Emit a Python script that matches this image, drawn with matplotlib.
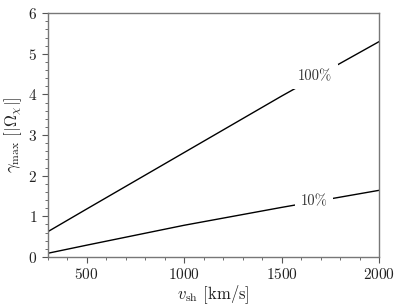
import matplotlib
matplotlib.use("Agg")
import matplotlib.pyplot as plt
from matplotlib.ticker import MultipleLocator

plt.rcParams['mathtext.fontset'] = 'cm'
plt.rcParams['font.family'] = 'serif'
plt.rcParams['font.serif'] = ['cmr10', 'DejaVu Serif']
plt.rcParams['axes.formatter.use_mathtext'] = True

v_sh = [300, 500, 1000, 1500, 2000]
gamma_100 = [0.62, 1.18, 2.57, 3.96, 5.30]
gamma_10 = [0.09, 0.29, 0.78, 1.22, 1.64]
labels = ["100%", "10%"]
label_x = [1671, 1666]
label_y = [4.45, 1.37]

fig = plt.figure(figsize=(3.99, 3.07), dpi=100)
ax = fig.add_axes([0.1195, 0.163, 0.8305, 0.794])

ax.plot(v_sh, gamma_100, color='black', lw=1.0)
ax.plot(v_sh, gamma_10, color='black', lw=1.0)
for lab, lx, ly in zip(labels, label_x, label_y):
    ax.text(lx, ly, lab, ha='center', va='center',
            fontsize=10.5, color='#333333',
            bbox=dict(facecolor='white', edgecolor='none', pad=4), zorder=5)

ax.set_xlim(300, 2000)
ax.set_ylim(0, 6)
ax.xaxis.set_major_locator(MultipleLocator(500))
ax.xaxis.set_minor_locator(MultipleLocator(100))
ax.yaxis.set_major_locator(MultipleLocator(1))
ax.yaxis.set_minor_locator(MultipleLocator(0.2))
ax.tick_params(which='both', direction='out', top=False, right=False,
               color='#555555', labelsize=11, labelcolor='#222222')
ax.tick_params(which='major', length=4, width=0.8)
ax.tick_params(which='minor', length=2, width=0.6)
for s in ax.spines.values():
    s.set_color('#777777')
    s.set_linewidth(1.0)

ax.set_xlabel(r'$v_{\rm sh}$ [km/s]', fontsize=12, color='#222222', labelpad=1)
ax.set_ylabel(r'$\gamma_{\rm max}$ [$|\Omega_\chi|$]', fontsize=12, color='#222222', labelpad=3)

fig.savefig('out.png', dpi=100)
